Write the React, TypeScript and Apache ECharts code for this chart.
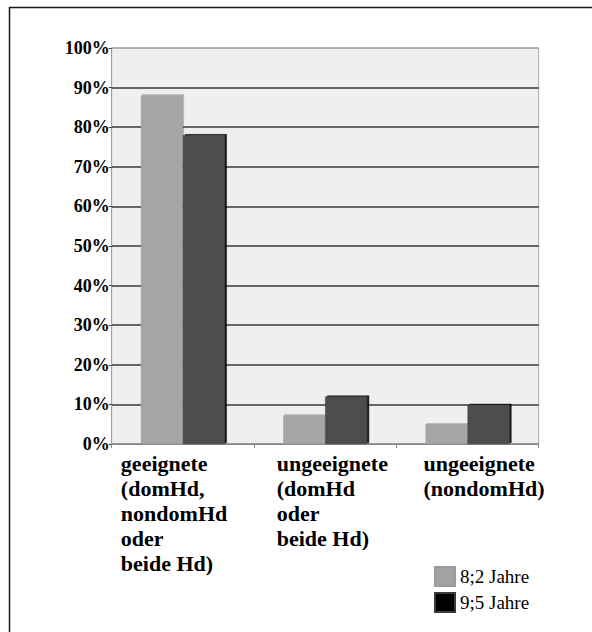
import React, { useEffect, useRef } from "react";
import * as echarts from "echarts";

const categories = [
  "geeignete\n(domHd,\nnondomHd\noder\nbeide Hd)",
  "ungeeignete\n(domHd\noder\nbeide Hd)",
  "ungeeignete\n(nondomHd)",
];
const seriesNames = ["8;2 Jahre", "9;5 Jahre"];
const values82 = [88, 7.2, 5];
const values95 = [78, 12, 9.9];
const yTicks = [0, 10, 20, 30, 40, 50, 60, 70, 80, 90, 100];

// layout only: horizontal offsets of the category label blocks from the category centres
const labelOffsets = [-62, -48.5, -44];

const serif = "Liberation Serif, serif";

export default function App() {
  const ref = useRef<HTMLDivElement>(null);
  useEffect(() => {
    if (!ref.current) return;
    const chart = echarts.init(ref.current, null, { renderer: "svg" });
    const splitColors = yTicks.map((t) => (t === 100 ? "#a8a8a8" : t === 0 ? "#888" : "#3a3a3a"));
    const option: any = {
      animation: false,
      backgroundColor: "#ffffff",
      grid: {
        left: 111.7,
        right: 53.3,
        top: 48,
        bottom: 188,
        show: true,
        backgroundColor: "#efefef",
        borderColor: "#a8a8a8",
        borderWidth: 1,
      },
      legend: {
        orient: "vertical",
        left: 429,
        top: 561,
        itemWidth: 20,
        itemHeight: 19,
        itemGap: 5,
        icon: "rect",
        textStyle: { fontFamily: serif, fontSize: 19, color: "#000" },
        data: [
          { name: seriesNames[0], itemStyle: { color: "#a3a3a3" } },
          { name: seriesNames[1], itemStyle: { color: "#000000" } },
        ],
      },
      xAxis: {
        type: "category",
        data: categories,
        axisLine: { lineStyle: { color: "#888", width: 1 } },
        axisTick: { show: true, length: 4, lineStyle: { color: "#888" } },
        axisLabel: { show: false },
      },
      yAxis: {
        type: "value",
        min: 0,
        max: 100,
        interval: 10,
        axisLine: { show: true, lineStyle: { color: "#a0a0a0", width: 1 } },
        axisTick: { show: true, length: 3, lineStyle: { color: "#3a3a3a" } },
        axisLabel: {
          formatter: (v: number) => `${v}%`,
          fontFamily: serif,
          fontWeight: "bold",
          fontSize: 18,
          color: "#000",
          margin: 2,
          padding: [5, 0, 0, 0],
        },
        splitLine: { show: true, lineStyle: { color: splitColors, width: 1.5 } },
      },
      series: [
        {
          name: seriesNames[0],
          type: "bar",
          data: values82,
          barGap: "0%",
          barCategoryGap: "41%",
          itemStyle: {
            color: "#a6a6a6",
            borderColor: "#9a9a9a",
            borderWidth: 0.5,
            shadowColor: "rgba(0,0,0,0.35)",
            shadowOffsetX: 1,
            shadowOffsetY: -1,
            shadowBlur: 0,
          },
        },
        {
          name: seriesNames[1],
          type: "bar",
          data: values95,
          barGap: "0%",
          barCategoryGap: "41%",
          itemStyle: {
            color: "#4e4e4e",
            borderColor: "#3a3a3a",
            borderWidth: 0.5,
            shadowColor: "rgba(0,0,0,0.9)",
            shadowOffsetX: 2,
            shadowOffsetY: -1,
            shadowBlur: 0,
          },
        },
      ],
    };
    chart.setOption(option);
    const texts = categories.map((c, i) => {
      const cx = chart.convertToPixel({ xAxisIndex: 0 }, i) as number;
      return {
        type: "text",
        x: cx + labelOffsets[i],
        y: 451,
        style: {
          text: c,
          fontFamily: serif,
          fontWeight: "bold",
          fontSize: 22,
          lineHeight: 25,
          fill: "#000",
          textAlign: "left",
          textVerticalAlign: "top",
        },
      };
    });
    chart.setOption({
      graphic: [
        {
          type: "rect",
          shape: { x: 9.5, y: 7.5, width: 700, height: 700 },
          style: { fill: "none", stroke: "#1a1a1a", lineWidth: 1.5 },
          silent: true,
        },
        ...texts,
      ],
    });
    return () => chart.dispose();
  }, []);
  return (
    <div
      ref={ref}
      style={{ position: "fixed", left: 0, top: 0, width: 592, height: 632 }}
    />
  );
}
